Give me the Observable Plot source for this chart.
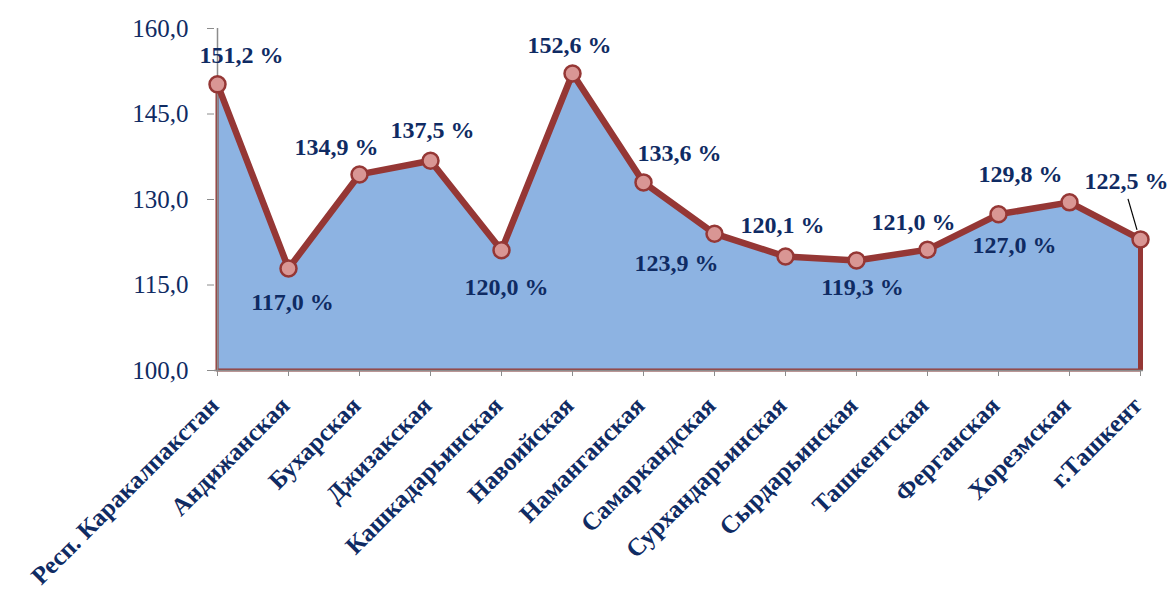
<!DOCTYPE html>
<html>
<head>
<meta charset="utf-8">
<script src="https://cdn.jsdelivr.net/npm/d3@7"></script>
<script src="https://cdn.jsdelivr.net/npm/@observablehq/plot@0.6"></script>
<style>
  html, body { margin: 0; padding: 0; background: #fff; }
  #chart svg { display: block; }
</style>
</head>
<body>
<div id="chart"></div>
<script>
const regions = [
  "Респ. Каракалпакстан", "Андижанская", "Бухарская", "Джизакская",
  "Кашкадарьинская", "Навоийская", "Наманганская", "Самаркандская",
  "Сурхандарьинская", "Сырдарьинская", "Ташкентская", "Ферганская",
  "Хорезмская", "г.Ташкент"
];
// plotted positions
const values = [150.2, 117.9, 134.4, 136.8, 121.1, 152.1, 133.0, 124.0, 120.0, 119.3, 121.2, 127.4, 129.5, 123.0];
// data label texts as shown
const labels = ["151,2 %", "117,0 %", "134,9 %", "137,5 %", "120,0 %", "152,6 %", "133,6 %",
                "123,9 %", "120,1 %", "119,3 %", "121,0 %", "127,0 %", "129,8 %", "122,5 %"];
const yTicks = [100, 115, 130, 145, 160];

// label placement offsets (layout only)
const labelDx = [24, 4, -23, 2, 5, -3, 36, -38, -3, 6, -14, 16, -49, -14];
const labelDy = [-29, 34, -27, -30, 37, -28, -29, 30, -31, 27, -27, 31, -28, -58];

const data = regions.map((r, i) => ({region: r, value: values[i], label: labels[i], i}));

const navy = "#0F2B63";
const red = "#953735";
const serif = "'Times New Roman', 'Liberation Serif', serif";
const fmt = d => d.toFixed(1).replace(".", ",");

const labelMarks = data.map(d => Plot.text([d], {
  x: "region", y: "value", text: "label",
  dx: labelDx[d.i], dy: labelDy[d.i],
  fill: navy, fontWeight: "bold", fontSize: 24, fontFamily: serif
}));

const chart = Plot.plot({
  width: 1176,
  height: 594,
  marginLeft: 214,
  marginRight: 33,
  marginTop: 28,
  marginBottom: 224,
  style: {fontFamily: serif, background: "#fff", overflow: "visible"},
  x: {type: "point", domain: regions, padding: 0, label: null},
  y: {domain: [100, 160], label: null},
  marks: [
    Plot.areaY(data, {x: "region", y1: 100, y2: "value", fill: "#8DB3E2", stroke: red, strokeWidth: 3}),
    Plot.ruleX([data[data.length - 1]], {x: "region", y1: 100, y2: "value", stroke: red, strokeWidth: 5}),
    Plot.ruleY([100], {stroke: "#8C8C8C", strokeWidth: 1.5}),
    Plot.ruleX([regions[0]], {stroke: "#8C8C8C", strokeWidth: 1.5}),
    Plot.axisY({ticks: yTicks, tickFormat: fmt, tickSize: 7, tickPadding: 19, stroke: "#8C8C8C",
      fill: navy, fontSize: 25, fontFamily: serif}),
    Plot.axisX({tickSize: 6, tickPadding: 20, tickRotate: -45, stroke: "#8C8C8C",
      fill: navy, fontSize: 25, fontWeight: "bold", fontFamily: serif}),
    Plot.line(data, {x: "region", y: "value", stroke: red, strokeWidth: 6.5, strokeLinejoin: "round"}),
    Plot.dot(data, {x: "region", y: "value", r: 8, fill: "#D99694", stroke: red, strokeWidth: 2.5}),
    ...labelMarks
  ]
});

// nudge rotated category labels to match reference placement
d3.select(chart).selectAll("g[aria-label='x-axis tick label'] text")
  .attr("transform", function() {
    const t = d3.select(this).attr("transform") || "";
    return "translate(-3,5) " + t;
  });

// leader line for the last label
const sx = chart.scale("x"), sy = chart.scale("y");
const last = data[data.length - 1];
const px = sx.apply(last.region), py = sy.apply(last.value);
d3.select(chart).append("line")
  .attr("x1", px - 12).attr("y1", py - 40)
  .attr("x2", px - 3).attr("y2", py - 9)
  .attr("stroke", "#000").attr("stroke-width", 1.2);

document.getElementById("chart").appendChild(chart);
</script>
</body>
</html>
